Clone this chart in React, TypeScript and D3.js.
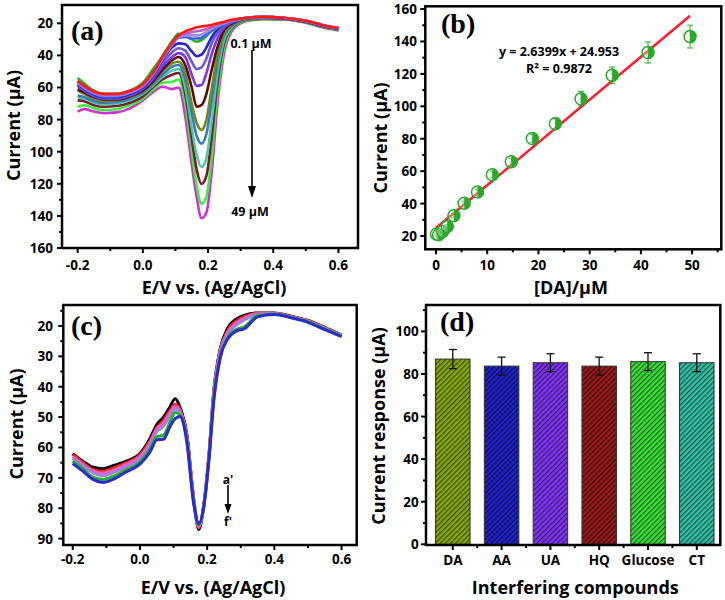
import React from "react";
import * as d3 from "d3";

const SANS = "'Open Sans', Lato, 'DejaVu Sans', sans-serif";
const SERIF = "'Liberation Serif', 'DejaVu Serif', serif";

// ---------------- Panel (a): DPV curves at increasing DA concentration ----------------
const potentialA = [-0.2, -0.18, -0.15, -0.12, -0.08, -0.04, 0.0, 0.03, 0.06, 0.09, 0.11, 0.13, 0.15, 0.165, 0.18, 0.195, 0.21, 0.23, 0.25, 0.28, 0.32, 0.37, 0.43, 0.5, 0.55, 0.6];
const dpvA1 = [56, 59, 62.5, 64, 64, 62, 58, 51, 41, 32, 27.5, 25, 23.5, 22.5, 22, 21.5, 21, 20, 19, 17.5, 16.5, 16, 16.5, 18.5, 21, 23];
const dpvA2 = [56, 59.5, 63, 64.5, 64.5, 62.5, 58.5, 51.5, 41.5, 32.5, 28, 26.5, 25.5, 25, 24.5, 23.5, 22.5, 21, 19.5, 18, 16.5, 16, 16.5, 18.5, 21, 23];
const dpvA3 = [57, 60, 63.5, 65, 65, 63, 59, 52, 42, 33, 28.5, 27.5, 27.5, 27.5, 27, 25.5, 23.5, 21.5, 20, 18, 16.5, 16, 16.5, 18.5, 21, 23];
const dpvA4 = [57.5, 60.5, 64, 65.5, 65.5, 63.5, 59.5, 52.5, 42.5, 33.5, 29, 28.5, 29.5, 29.5, 29, 27, 24.5, 22, 20.5, 18.5, 16.5, 16, 16.5, 18.5, 21, 23];
const dpvA5 = [54, 57.5, 62, 64, 64, 62, 57, 49, 40.5, 31, 26.5, 27.5, 30, 31.5, 30.5, 28, 25, 22.5, 20.5, 18.5, 16.5, 16, 16.5, 18.5, 21, 23];
const dpvA6 = [58, 61, 64.5, 66, 66, 64, 60, 53, 43, 35, 32.5, 33, 37.5, 40.5, 39.5, 35, 29, 23.5, 20.5, 18.5, 16.5, 16.2, 16.7, 18.7, 21.2, 23.2];
const dpvA7 = [58.5, 61.5, 65, 66.5, 66.5, 64.5, 60.5, 54, 45, 38, 35.5, 37, 44, 48.5, 47.5, 42, 33, 25.5, 21.5, 18.5, 16.6, 16.3, 16.8, 18.8, 21.3, 23.3];
const dpvA8 = [59, 62, 65.5, 67, 67, 65, 61, 55, 47, 41, 38.5, 41, 52, 59, 58.5, 51, 40, 29, 22.5, 19, 16.7, 16.4, 16.9, 18.9, 21.4, 23.4];
const dpvA9 = [61, 63, 66, 67.5, 67.5, 65.5, 62, 56.5, 49, 43, 41, 46, 60, 72, 71, 64, 50, 34, 24, 19.5, 16.8, 16.5, 17, 19, 21.5, 23.5];
const dpvA10 = [62, 64, 67, 68.5, 68, 66, 62.5, 57, 50, 45, 44, 51, 70, 82, 86.5, 80, 62, 39, 26, 20, 17, 16.6, 17.1, 19.1, 21.6, 23.6];
const dpvA11 = [65, 66, 68.5, 69.5, 69, 67, 63, 58, 52, 47, 46, 55, 76, 90, 95, 89, 70, 43, 27, 20.5, 17.2, 16.8, 17.2, 19.2, 21.7, 23.7];
const dpvA12 = [66, 67, 69.5, 70.5, 70, 68, 64, 59, 53.5, 49.5, 48.5, 60, 85, 102, 109.5, 104, 83, 50, 30, 21, 17.5, 17, 17.3, 19.3, 21.8, 23.8];
const dpvA13 = [68, 68.5, 71, 72, 71.5, 69.5, 65.5, 60, 55, 52, 51, 64, 92, 111, 120, 115, 93, 55, 32, 21.5, 17.8, 17.2, 17.4, 19.4, 22, 24];
const dpvA14 = [72, 71, 73, 74, 73.5, 71, 67, 61.5, 57, 56.5, 55, 70, 100, 121, 132.5, 128, 105, 62, 35, 22, 18.2, 17.4, 17.5, 19.5, 22.2, 24.3];
const dpvA15 = [75, 73.5, 75, 76, 75.5, 73, 68, 63, 59.5, 61, 60, 78, 108, 128, 141.5, 138, 115, 68, 38, 23, 18.5, 17.5, 17.5, 19.6, 22.5, 24.5];
const colorsA = ["#ff1a1a", "#c05ac0", "#9a8cf0", "#4060ff", "#22b022", "#2424d0", "#6a5ad8", "#7a35e6", "#5a0808", "#6f8a1c", "#3a78bf", "#4cc8a8", "#7a1c30", "#3cf03c", "#d030d0"];
const curvesA = [dpvA1, dpvA2, dpvA3, dpvA4, dpvA5, dpvA6, dpvA7, dpvA8, dpvA9, dpvA10, dpvA11, dpvA12, dpvA13, dpvA14, dpvA15];

// ---------------- Panel (b): calibration ----------------
const concB = [0.1, 0.5, 1.3, 2.2, 3.5, 5.5, 8.1, 11, 14.7, 18.8, 23.3, 28.3, 34.4, 41.4, 49.6];
const currentB = [21.2, 20.8, 22.8, 25.9, 32.5, 40.2, 47.2, 57.8, 65.8, 80.2, 89.2, 104.7, 119.2, 133.2, 143];
const errorB = [0.6, 0.6, 0.8, 1, 1.2, 1.3, 1.5, 1.8, 2, 2.5, 3.5, 4.5, 5, 6.5, 7];
const fitSlope = 2.6399;
const fitIntercept = 24.953;
const fitRange = [0, 49.6];

// ---------------- Panel (c): interference DPV ----------------
const potentialC = [-0.2, -0.17, -0.14, -0.11, -0.08, -0.04, 0.0, 0.03, 0.05, 0.07, 0.09, 0.105, 0.12, 0.14, 0.16, 0.175, 0.19, 0.205, 0.22, 0.24, 0.26, 0.29, 0.31, 0.35, 0.4, 0.45, 0.5, 0.55, 0.6];
const dpvCa = [62, 64.5, 66.5, 67, 66, 64.5, 62, 57, 52.5, 50, 46.5, 44, 47, 56, 77, 87, 79, 63, 41, 27, 21, 17.5, 16.5, 15.7, 15.7, 16.8, 18.2, 20.5, 23];
const dpvCb = [62.3, 65, 67.2, 67.8, 66.8, 65, 62.5, 57.8, 53.5, 51.2, 47.8, 45.8, 47.8, 56.5, 77, 86.5, 79, 63, 41.5, 27.5, 21.8, 18.2, 17, 15.8, 15.8, 16.9, 18.3, 20.6, 23];
const dpvCc = [63, 65.5, 67.8, 68.5, 67.5, 65.5, 63, 58.5, 54, 52, 48.5, 46.5, 48.3, 57, 77.2, 86, 79, 63.5, 42, 28, 22.3, 18.8, 17.5, 16, 15.9, 17, 18.4, 20.7, 23.1];
const dpvCd = [63.5, 66, 68.3, 69.3, 68.3, 66.3, 63.8, 59.3, 54.8, 53, 49.5, 47.3, 48.8, 57.5, 77.5, 85.8, 79.2, 63.5, 42.5, 28.5, 22.8, 19.5, 18, 16.2, 16, 17.1, 18.5, 20.8, 23.2];
const dpvCe = [64.5, 67, 69.8, 70.5, 69.5, 67.3, 64.8, 60.5, 56.5, 56, 51.5, 48.5, 49.5, 58, 78, 85.5, 79.5, 64, 43.5, 29.5, 24, 21, 20.3, 16.6, 16.1, 17.2, 18.6, 21, 23.3];
const dpvCf = [65.3, 67.8, 70.5, 71.5, 70.5, 68, 65.5, 61.5, 57.5, 57.3, 53, 50.5, 49.8, 58.5, 78.5, 85, 79.5, 64.5, 44.5, 30, 24.5, 21.5, 21, 17, 16.2, 17.3, 18.8, 21.2, 23.5];
const colorsC = ["#000000", "#ff2020", "#f060c0", "#a080e0", "#22b022", "#2a2ad0"];
const curvesC = [dpvCa, dpvCb, dpvCc, dpvCd, dpvCe, dpvCf];

// ---------------- Panel (d): interfering compounds ----------------
const compounds = ["DA", "AA", "UA", "HQ", "Glucose", "CT"];
const responseD = [87, 83.7, 85.3, 83.7, 85.8, 85.3];
const errorD = [4.5, 4.2, 4.2, 4.2, 4.2, 4.2];
const colorsD = ["#86a80e", "#2222c4", "#8036f0", "#951a1a", "#3ade3a", "#34c0a4"];

const fmt1 = (v: number) => v.toFixed(1);

type Box = { l: number; r: number; t: number; b: number };

function Frame(props: {
  box: Box;
  yScale: (v: number) => number;
  yTicks: number[];
  yMinor: number[];
  xMajor: { pos: number; label: string }[];
  xMinor: number[];
  yTickRight: number;
  xTickY: number;
  xTitle: string;
  xTitleX: number;
  xTitleY: number;
  yTitle: string;
  yTitleX: number;
  yTitleY: number;
  letter: string;
  letterX: number;
  letterY: number;
}) {
  const { box, yScale } = props;
  const { l, r, t, b } = box;
  return (
    <g>
      <rect x={l} y={t} width={r - l} height={b - t} fill="none" stroke="#000" strokeWidth={2.5} />
      {props.yTicks.map((v) => (
        <line key={"yt" + v} x1={l - 5} x2={l} y1={yScale(v)} y2={yScale(v)} stroke="#000" strokeWidth={2} />
      ))}
      {props.yMinor.map((v) => (
        <line key={"ym" + v} x1={l - 3} x2={l} y1={yScale(v)} y2={yScale(v)} stroke="#000" strokeWidth={2} />
      ))}
      {props.xMajor.map((d) => (
        <line key={"xt" + d.pos} x1={d.pos} x2={d.pos} y1={b} y2={b + 5} stroke="#000" strokeWidth={2} />
      ))}
      {props.xMinor.map((p) => (
        <line key={"xm" + p} x1={p} x2={p} y1={b} y2={b + 3} stroke="#000" strokeWidth={2} />
      ))}
      {props.yTicks.map((v) => (
        <text key={"yl" + v} x={props.yTickRight} y={yScale(v)} textAnchor="end" dominantBaseline="central" fontSize={13.5} fontWeight={700}>
          {v}
        </text>
      ))}
      {props.xMajor.map((d) => (
        <text key={"xl" + d.pos} x={d.pos} y={props.xTickY} textAnchor="middle" dominantBaseline="central" fontSize={13.5} fontWeight={700}>
          {d.label}
        </text>
      ))}
      <text x={props.xTitleX} y={props.xTitleY} textAnchor="middle" dominantBaseline="central" fontSize={18} fontWeight={700}>
        {props.xTitle}
      </text>
      <text
        transform={`translate(${props.yTitleX},${props.yTitleY}) rotate(-90)`}
        textAnchor="middle"
        dominantBaseline="central"
        fontSize={18}
        fontWeight={700}
      >
        {props.yTitle}
      </text>
      <text x={props.letterX} y={props.letterY} fontFamily={SERIF} fontWeight={700} fontSize={28}>
        {props.letter}
      </text>
    </g>
  );
}

function PanelA() {
  const box = { l: 62, r: 358, t: 5, b: 248 };
  const x = d3.scaleLinear().domain([-0.248, 0.66]).range([box.l, box.r]);
  const y = d3.scaleLinear().domain([8.6, 160]).range([box.t, box.b]);
  const line = d3
    .line<[number, number]>()
    .x((d) => x(d[0]))
    .y((d) => y(d[1]))
    .curve(d3.curveMonotoneX);
  const order = curvesA.map((_, i) => i).reverse();
  return (
    <g>
      {order.map((i) => (
        <path
          key={i}
          d={line(potentialA.map((p, k) => [p, curvesA[i][k]] as [number, number])) || ""}
          fill="none"
          stroke={colorsA[i]}
          strokeWidth={2.6}
        />
      ))}
      <Frame
        box={box}
        yScale={y}
        yTicks={d3.range(20, 161, 20)}
        yMinor={d3.range(30, 160, 20)}
        xMajor={[-0.2, 0, 0.2, 0.4, 0.6].map((v) => ({ pos: x(v), label: fmt1(v) }))}
        xMinor={[-0.1, 0.1, 0.3, 0.5].map((v) => x(v))}
        yTickRight={53}
        xTickY={265}
        xTitle="E/V vs. (Ag/AgCl)"
        xTitleX={214}
        xTitleY={287}
        yTitle="Current (µA)"
        yTitleX={12.5}
        yTitleY={125.5}
        letter="(a)"
        letterX={71}
        letterY={40}
      />
      <text x={251} y={43} textAnchor="middle" dominantBaseline="central" fontSize={12.5} fontWeight={700}>
        0.1 µM
      </text>
      <line x1={252} x2={252} y1={50} y2={188} stroke="#000" strokeWidth={1.6} />
      <path d="M248,186 L256,186 L252,198 Z" fill="#000" />
      <text x={250} y={211} textAnchor="middle" dominantBaseline="central" fontSize={12.5} fontWeight={700}>
        49 µM
      </text>
    </g>
  );
}

function PanelB() {
  const box = { l: 425.3, r: 721.3, t: 6.3, b: 249.3 };
  const x = d3.scaleLinear().domain([-2.09, 55.7]).range([box.l, box.r]);
  const y = d3.scaleLinear().domain([11.8, 161.7]).range([box.b, box.t]);
  const green = "#2aa82a";
  const rad = 6;
  return (
    <g>
      {concB.map((c, i) => (
        <g key={"e" + i} stroke="#44bb44" strokeWidth={1.2}>
          <line x1={x(c)} x2={x(c)} y1={y(currentB[i] - errorB[i])} y2={y(currentB[i] + errorB[i])} />
          <line x1={x(c) - 3} x2={x(c) + 3} y1={y(currentB[i] - errorB[i])} y2={y(currentB[i] - errorB[i])} />
          <line x1={x(c) - 3} x2={x(c) + 3} y1={y(currentB[i] + errorB[i])} y2={y(currentB[i] + errorB[i])} />
        </g>
      ))}
      <line
        x1={x(fitRange[0])}
        y1={y(fitSlope * fitRange[0] + fitIntercept)}
        x2={x(fitRange[1])}
        y2={y(fitSlope * fitRange[1] + fitIntercept)}
        stroke="#ff1e2e"
        strokeWidth={2.6}
      />
      {concB.map((c, i) => {
        const cx = x(c);
        const cy = y(currentB[i]);
        return (
          <g key={"p" + i}>
            <circle cx={cx} cy={cy} r={rad} fill="#ffffff" fillOpacity={0.3} stroke={green} strokeWidth={1.5} />
            <path d={`M${cx},${cy - rad} A${rad},${rad} 0 0 1 ${cx},${cy + rad} Z`} fill={green} />
          </g>
        );
      })}
      <Frame
        box={box}
        yScale={y}
        yTicks={d3.range(20, 161, 20)}
        yMinor={d3.range(30, 160, 20)}
        xMajor={[0, 10, 20, 30, 40, 50].map((v) => ({ pos: x(v), label: String(v) }))}
        xMinor={[5, 15, 25, 35, 45, 55].map((v) => x(v))}
        yTickRight={417}
        xTickY={265}
        xTitle="[DA]/µM"
        xTitleX={571}
        xTitleY={287}
        yTitle="Current (µA)"
        yTitleX={379.5}
        yTitleY={138}
        letter="(b)"
        letterX={441}
        letterY={33}
      />
      <text x={559} y={51.5} textAnchor="middle" dominantBaseline="central" fontSize={12.5} fontWeight={700}>
        y = 2.6399x + 24.953
      </text>
      <text x={559} y={68.5} textAnchor="middle" dominantBaseline="central" fontSize={12.5} fontWeight={700}>
        R² = 0.9872
      </text>
    </g>
  );
}

function PanelC() {
  const box = { l: 63.3, r: 356.7, t: 305, b: 545 };
  const x = d3.scaleLinear().domain([-0.228, 0.645]).range([box.l, box.r]);
  const y = d3.scaleLinear().domain([13.1, 92.1]).range([box.t, box.b]);
  const line = d3
    .line<[number, number]>()
    .x((d) => x(d[0]))
    .y((d) => y(d[1]))
    .curve(d3.curveMonotoneX);
  return (
    <g>
      {curvesC.map((c, i) => (
        <path
          key={i}
          d={line(potentialC.map((p, k) => [p, c[k]] as [number, number])) || ""}
          fill="none"
          stroke={colorsC[i]}
          strokeWidth={3}
        />
      ))}
      <Frame
        box={box}
        yScale={y}
        yTicks={d3.range(20, 91, 10)}
        yMinor={d3.range(15, 90, 10)}
        xMajor={[-0.2, 0, 0.2, 0.4, 0.6].map((v) => ({ pos: x(v), label: fmt1(v) }))}
        xMinor={[-0.1, 0.1, 0.3, 0.5].map((v) => x(v))}
        yTickRight={53}
        xTickY={559}
        xTitle="E/V vs. (Ag/AgCl)"
        xTitleX={213}
        xTitleY={587}
        yTitle="Current (µA)"
        yTitleX={15.8}
        yTitleY={424}
        letter="(c)"
        letterX={71}
        letterY={335}
      />
      <text x={228} y={479} textAnchor="middle" dominantBaseline="central" fontSize={12} fontWeight={700}>
        a'
      </text>
      <line x1={228} x2={228} y1={485} y2={506} stroke="#000" strokeWidth={1.6} />
      <path d="M224.5,504 L231.5,504 L228,514 Z" fill="#000" />
      <text x={228} y={521} textAnchor="middle" dominantBaseline="central" fontSize={12} fontWeight={700}>
        f'
      </text>
    </g>
  );
}

function PanelD() {
  const box = { l: 426, r: 720.3, t: 305, b: 545 };
  const x = d3
    .scaleBand<string>()
    .domain(compounds)
    .range([428.4, 721.2])
    .paddingInner(0.293)
    .paddingOuter(0.1465);
  const y = d3.scaleLinear().domain([0, 112.4]).range([544.3, 305]);
  const bw = x.bandwidth();
  const step = x.step();
  return (
    <g>
      <defs>
        {compounds.map((c, i) => (
          <pattern key={c} id={"hatch" + i} patternUnits="userSpaceOnUse" width={3.6} height={3.6} patternTransform="rotate(45)">
            <rect width={3.6} height={3.6} fill={colorsD[i]} />
            <line x1={0.6} y1={0} x2={0.6} y2={3.6} stroke="#000" strokeOpacity={0.55} strokeWidth={1.2} />
          </pattern>
        ))}
      </defs>
      {compounds.map((c, i) => (
        <rect
          key={c}
          x={x(c)!}
          y={y(responseD[i])}
          width={bw}
          height={y(0) - y(responseD[i])}
          fill={`url(#hatch${i})`}
          stroke="#333"
          strokeWidth={1}
        />
      ))}
      {compounds.map((c, i) => {
        const cx = x(c)! + bw / 2;
        const top = y(responseD[i] + errorD[i]);
        const bot = y(responseD[i] - errorD[i]);
        return (
          <g key={"err" + c} stroke="#111" strokeWidth={1.3}>
            <line x1={cx} x2={cx} y1={top} y2={bot} />
            <line x1={cx - 4} x2={cx + 4} y1={top} y2={top} />
            <line x1={cx - 4} x2={cx + 4} y1={bot} y2={bot} />
          </g>
        );
      })}
      <Frame
        box={box}
        yScale={y}
        yTicks={d3.range(0, 101, 20)}
        yMinor={d3.range(10, 111, 20)}
        xMajor={compounds.map((c) => ({ pos: x(c)! + bw / 2, label: c }))}
        xMinor={compounds.slice(1).map((c) => x(c)! + bw / 2 - step / 2)}
        yTickRight={418.7}
        xTickY={560}
        xTitle="Interfering compounds"
        xTitleX={575.3}
        xTitleY={587}
        yTitle="Current response (µA)"
        yTitleX={377.8}
        yTitleY={426}
        letter="(d)"
        letterX={440}
        letterY={331}
      />
    </g>
  );
}

export default function App() {
  return (
    <svg
      width={725}
      height={600}
      viewBox="0 0 725 600"
      style={{ position: "absolute", left: 0, top: 0, display: "block" }}
      fontFamily={SANS}
    >
      <rect width={725} height={600} fill="#ffffff" />
      <PanelA />
      <PanelB />
      <PanelC />
      <PanelD />
    </svg>
  );
}
